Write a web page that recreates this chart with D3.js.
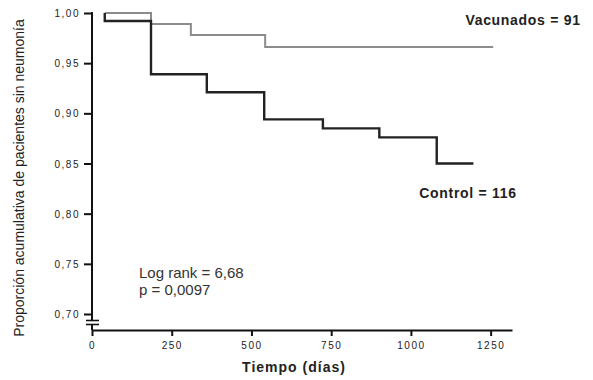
<!DOCTYPE html>
<html>
<head>
<meta charset="utf-8">
<script src="https://cdn.jsdelivr.net/npm/d3@7"></script>
<style>
  body { margin: 0; background: #fff; }
  svg { display: block; font-family: "Liberation Sans", Arial, sans-serif; }
  .tick text { font-size: 10px; letter-spacing: 1.5px; fill: #222; }
  .tick line { stroke: #111; stroke-width: 2px; }
</style>
</head>
<body>
<div id="chart"></div>
<script>
// Kaplan-Meier steps (days, cumulative proportion)
const controlDays = [40, 40, 185, 360, 540, 724, 901, 1081, 1196];
const controlSurv = [1.00, 0.992, 0.939, 0.921, 0.894, 0.885, 0.876, 0.850, 0.850];
const vacDays = [40, 185, 310, 543, 1258];
const vacSurv = [1.00, 0.989, 0.978, 0.966, 0.966];
const xTicks = [0, 250, 500, 750, 1000, 1250];
const yTicks = [0.70, 0.75, 0.80, 0.85, 0.90, 0.95, 1.00];

const width = 593, height = 380;

const svg = d3.select('#chart')
  .append('svg')
    .attr('width', width)
    .attr('height', height);

// Scales
const x = d3.scaleLinear().domain([0, 1317]).range([92, 512]);
const y = d3.scaleLinear().domain([0.70, 1.00]).range([314, 13]);
const xAxisY = 330;
const fmt = d => d3.format('.2f')(d).replace('.', ',');

// Y axis (domain line drawn by hand to make room for the break)
const yAxis = svg.append('g')
  .attr('transform', `translate(${x(0)},0)`)
  .call(d3.axisLeft(y).tickValues(yTicks).tickFormat(fmt).tickSize(8).tickPadding(4));
yAxis.select('.domain').remove();
yAxis.selectAll('.tick text').attr('dy', '0.35em');

svg.append('line')
  .attr('x1', x(0)).attr('x2', x(0))
  .attr('y1', y(1.00) - 1).attr('y2', 320.5)
  .attr('stroke', '#111').attr('stroke-width', 2);
svg.append('line')
  .attr('x1', x(0)).attr('x2', x(0))
  .attr('y1', 324.5).attr('y2', xAxisY)
  .attr('stroke', '#111').attr('stroke-width', 2);
// axis break marks
[320.5, 324.5].forEach(yy => {
  svg.append('line')
    .attr('x1', x(0) - 6).attr('x2', x(0) + 7)
    .attr('y1', yy).attr('y2', yy)
    .attr('stroke', '#111').attr('stroke-width', 1.6);
});

// X axis
const xAxis = svg.append('g')
  .attr('transform', `translate(0,${xAxisY})`)
  .call(d3.axisBottom(x).tickValues(xTicks).tickFormat(d3.format('d')).tickSize(6).tickSizeOuter(0).tickPadding(6));
xAxis.select('.domain').attr('stroke', '#111').attr('stroke-width', 2);

// Axis titles
svg.append('text')
  .attr('x', 294).attr('y', 372)
  .attr('text-anchor', 'middle')
  .style('font-size', '14px').style('font-weight', 'bold').style('letter-spacing', '1px')
  .attr('fill', '#222')
  .text('Tiempo (días)');
svg.append('text')
  .attr('transform', 'translate(24,178) rotate(-90)')
  .attr('text-anchor', 'middle')
  .style('font-size', '14px')
  .attr('fill', '#222')
  .text('Proporción acumulativa de pacientes sin neumonía');

// Survival step curves
const step = d3.line()
  .curve(d3.curveStepAfter)
  .x(d => x(d[0]))
  .y(d => y(d[1]));

svg.append('path')
  .attr('d', step(d3.zip(vacDays, vacSurv)))
  .attr('fill', 'none')
  .attr('stroke', '#8c8c8c')
  .attr('stroke-width', 2);
svg.append('path')
  .attr('d', step(d3.zip(controlDays, controlSurv)))
  .attr('fill', 'none')
  .attr('stroke', '#222')
  .attr('stroke-width', 2.4);

// Group labels
svg.append('text')
  .attr('x', 523).attr('y', 25)
  .attr('text-anchor', 'middle')
  .style('font-size', '14px').style('font-weight', 'bold').style('letter-spacing', '0.7px')
  .attr('fill', '#222')
  .text('Vacunados = 91');
svg.append('text')
  .attr('x', 468).attr('y', 198)
  .attr('text-anchor', 'middle')
  .style('font-size', '14px').style('font-weight', 'bold').style('letter-spacing', '0.7px')
  .attr('fill', '#222')
  .text('Control = 116');

// Test statistic
svg.append('text')
  .attr('x', 139).attr('y', 278)
  .style('font-size', '15px')
  .attr('fill', '#333')
  .text('Log rank = 6,68');
svg.append('text')
  .attr('x', 139).attr('y', 295)
  .style('font-size', '15px')
  .attr('fill', '#333')
  .text('p = 0,0097');
</script>
</body>
</html>
